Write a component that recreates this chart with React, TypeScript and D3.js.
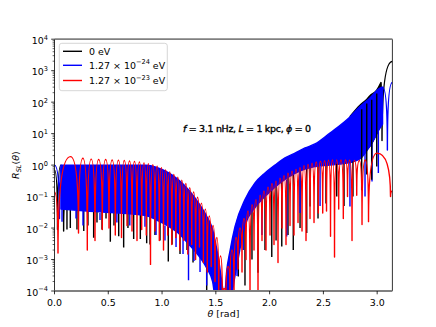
import React from 'react';
import * as d3 from 'd3';

const W = 436;
const H = 327;
const L = 54.5, R = 392.4, T = 39.2, B = 291.0;

const xTickValues = [0, 0.5, 1, 1.5, 2, 2.5, 3];
const xTickLabels = ['0.0', '0.5', '1.0', '1.5', '2.0', '2.5', '3.0'];
const yTickExponents = [-4, -3, -2, -1, 0, 1, 2, 3, 4];

const legendMantissa = ['0 eV', '1.27 × 10', '1.27 × 10'];
const legendExponent = ['', '−24', '−23'];
const legendUnit = ['', ' eV', ' eV'];
const seriesColors = ['#000000', '#0000ff', '#ff0000'];

// ---- 0 eV (black) ----
const blackHead: [number, number][] = [[0, 0.7], [0.028, 0.009], [0.06, 1.0], [0.085, 0.008], [0.1, 0.05]];
const blackBandTheta = [2.75, 2.84, 2.9, 2.933, 2.996, 3.035];
const blackBandTop = [36, 80, 120, 160, 240, 420];
const blackBandBottom = [1.5, 1.6, 3, 4, 10, 20];
const blackTail: [number, number][] = [[3.035, 420], [3.045, 6], [3.1416, 1950]];
const blackSpikeTheta = [0.116, 0.147, 0.209, 0.272, 0.311, 0.364, 0.395, 0.442, 0.479, 0.519, 0.553, 0.597, 0.643, 0.683, 0.736, 0.798, 0.857, 0.888, 0.934, 0.981, 1.058, 1.093, 1.167, 1.232, 1.288, 1.353, 1.415, 1.455,
  1.709, 1.771, 1.836, 1.892, 1.957, 2.02, 2.06, 2.113, 2.171, 2.22, 2.283, 2.345, 2.376, 2.45, 2.524];
const blackSpikeHigh = [0.05, 0.05, 0.05, 0.05, 0.05, 0.05, 0.05, 0.05, 0.05, 0.05, 0.05, 0.05, 0.05, 0.05, 0.05, 0.05, 0.05, 0.05, 0.05, 0.05, 0.02, 0.02, 0.01, 0.01, 0.005, 0.005, 0.002, 0.002,
  0.01, 0.03, 0.1, 0.1, 0.2, 0.3, 0.3, 0.4, 0.5, 0.6, 0.8, 0.9, 0.9, 1, 1];
const blackSpikeLow = [0.009, 0.01, 0.009, 0.008, 0.012, 0.0049, 0.015, 0.009, 0.02, 0.0037, 0.012, 0.0055, 0.0024, 0.01, 0.0045, 0.0045, 0.0033, 0.003, 0.006, 0.004, 0.00086, 0.003, 0.0015, 0.002, 0.0008, 0.0012, 0.00005, 0.0003,
  0.00029, 0.00015, 0.001, 0.00038, 0.002, 0.0012, 0.004, 0.0026, 0.006, 0.002, 0.01, 0.0069, 0.048, 0.02, 0.06];
const blackStreakTheta = [2.624, 2.692, 2.775, 2.856, 2.903, 2.949, 2.996];
const blackStreakHigh = [1.1, 1.1, 1.3, 60, 90, 120, 190];
const blackStreakLow = [0.1, 0.05, 0.1, 0.16, 0.5, 0.34, 0.9];

// ---- 1.27e-24 eV (blue) ----
const blueHead: [number, number][] = [[0, 1.0], [0.046, 0.02], [0.065, 1.0]];
const blueBandTheta = [0.06, 0.3, 0.6, 0.85, 0.95, 1.05, 1.15, 1.25, 1.35, 1.42, 1.47, 1.5, 1.53, 1.555, 1.57, 1.585, 1.6, 1.632, 1.678, 1.771, 1.864, 1.957, 2.05, 2.143, 2.236, 2.329, 2.422, 2.561, 2.747, 2.84, 2.933, 3.026, 3.05];
const blueBandTop = [1, 1, 1, 1, 0.85, 0.6, 0.35, 0.16, 0.055, 0.022, 0.009, 0.003, 0.0008, 0.0002, 0.0001, 0.0001, 0.0004, 0.0019, 0.011, 0.08, 0.27, 0.56, 1.0, 1.7, 2.4, 3.5, 4.7, 10.5, 34, 72, 136, 280, 300];
const blueBandBottom = [0.04, 0.035, 0.03, 0.025, 0.018, 0.012, 0.007, 0.003, 0.0012, 0.0005, 0.0002, 0.00005, 0.00005, 0.00005, 0.00005, 0.00005, 0.00005, 0.00005, 0.0003, 0.012, 0.045, 0.1, 0.2, 0.35, 0.55, 0.75, 0.9, 1.0, 1.2, 1.6, 4, 15, 20];
const blueTail: [number, number][] = [[3.05, 300], [3.095, 3], [3.1416, 420]];
const blueSpikeTheta = [0.07, 0.2, 0.265, 0.423, 0.58, 0.7, 0.841, 0.944, 1.027, 1.13, 1.195, 1.246, 1.297, 1.353, 1.415, 1.697, 1.755, 1.929, 2.159, 2.283, 2.469, 2.747, 2.887, 2.952, 3.011];
const blueSpikeHigh = [0.04, 0.035, 0.035, 0.03, 0.03, 0.03, 0.025, 0.018, 0.012, 0.008, 0.005, 0.003, 0.002, 0.0012, 0.0005, 0.001, 0.01, 0.08, 0.35, 0.6, 0.9, 1.2, 3, 5, 12];
const blueSpikeLow = [0.016, 0.02, 0.012, 0.018, 0.015, 0.012, 0.011, 0.006, 0.004, 0.0025, 0.0015, 0.00022, 0.0009, 0.0004, 0.00015, 0.0003, 0.002, 0.006, 0.0054, 0.03, 0.05, 0.048, 0.1, 0.3, 0.56];

// ---- 1.27e-23 eV (red): alternating extrema [theta, value] ----
const redExtrema: [number, number][] = [
  [0, 0.14], [0.0325, 0.0016], [0.149, 1.86], [0.2232, 0.007], [0.264, 1.65], [0.305, 0.002], [0.341, 1.55], [0.3766, 0.004],
  [0.4105, 1.5], [0.4444, 0.009], [0.4756, 1.5], [0.5067, 0.01], [0.536, 1.45], [0.5653, 0.006], [0.5942, 1.42], [0.623, 0.005],
  [0.6486, 1.4], [0.6741, 0.012], [0.6974, 1.35], [0.7206, 0.008], [0.7439, 1.3], [0.7671, 0.004], [0.789, 1.25], [0.8108, 0.009],
  [0.8322, 1.18], [0.8536, 0.006], [0.8731, 1.1], [0.8926, 0.0007], [0.9135, 1.02], [0.9344, 0.008], [0.9544, 0.92], [0.9744, 0.004],
  [0.994, 0.82], [1.0135, 0.002], [1.033, 0.7], [1.0525, 0.006], [1.0716, 0.6], [1.0907, 0.003], [1.1093, 0.5], [1.1278, 0.005],
  [1.1464, 0.41], [1.165, 0.002], [1.1836, 0.33], [1.2022, 0.004], [1.2208, 0.26], [1.2394, 0.0015], [1.2576, 0.19], [1.2757, 0.003],
  [1.2938, 0.14], [1.3119, 0.001], [1.3301, 0.095], [1.3482, 0.0025], [1.3664, 0.062], [1.3845, 0.0008], [1.4026, 0.04], [1.4207, 0.0004],
  [1.4389, 0.024], [1.457, 0.0006], [1.4747, 0.012], [1.4923, 0.0002], [1.5095, 0.005], [1.5267, 0.00005], [1.5435, 0.0013], [1.5602, 0.00005],
  [1.5774, 0.00012], [1.5946, 0.00005], [1.6132, 0.0006], [1.6318, 0.00008], [1.6504, 0.002], [1.669, 0.00005], [1.6876, 0.005], [1.7062, 0.0005],
  [1.7248, 0.01], [1.7434, 0.0004], [1.762, 0.02], [1.7806, 0.001], [1.7992, 0.035], [1.8178, 0.00005], [1.8364, 0.055], [1.855, 0.002],
  [1.8736, 0.08], [1.8922, 0.00005], [1.9108, 0.11], [1.9293, 0.004], [1.9479, 0.15], [1.9665, 0.002], [1.9851, 0.2], [2.0037, 0.006],
  [2.0223, 0.26], [2.0409, 0.003], [2.0595, 0.31], [2.0781, 0.0008], [2.0967, 0.38], [2.1153, 0.01], [2.1339, 0.46], [2.1525, 0.003],
  [2.1711, 0.55], [2.1897, 0.012], [2.2083, 0.64], [2.2269, 0.006], [2.2455, 0.73], [2.2641, 0.015], [2.2827, 0.83], [2.3013, 0.008],
  [2.3199, 0.95], [2.3385, 0.004], [2.3571, 1.05], [2.3757, 0.02], [2.3943, 1.15], [2.4129, 0.015], [2.4329, 1.25], [2.4528, 0.03],
  [2.4733, 1.32], [2.4937, 0.03], [2.5114, 1.38], [2.5291, 0.035], [2.5477, 1.42], [2.5663, 0.0055], [2.5849, 1.45], [2.6035, 0.0012],
  [2.623, 1.45], [2.6425, 0.04], [2.6639, 1.45], [2.6853, 0.02], [2.7048, 1.45], [2.7243, 0.1], [2.7453, 1.42], [2.7662, 0.004],
  [2.7881, 1.4], [2.8099, 0.11], [2.8346, 1.4], [2.8592, 0.013], [2.8894, 1.45], [2.9196, 0.016], [2.9986, 2.4], [3.1241, 0.1], [3.1416, 0.15],
];

const FONT = 'DejaVu Sans, sans-serif';
const FS = 9.45;
const LW = 1.42;

export default function App() {
  const x = d3.scaleLinear().domain([0, Math.PI]).range([L, R]);
  const y = d3.scaleLog().domain([1e-4, 1e4]).range([B, T]);

  const arcPath = (pts: [number, number][]) => {
    const p = d3.path();
    const P = pts.map(([t, v]) => [x(t), y(v)]);
    p.moveTo(P[0][0], P[0][1]);
    for (let i = 1; i < P.length; i++) {
      const [ax, ay] = P[i - 1];
      const [bx, by] = P[i];
      if (ay < by) p.quadraticCurveTo(bx, ay, bx, by);
      else p.quadraticCurveTo(ax, by, bx, by);
    }
    return p.toString();
  };

  const band = (th: number[], top: number[], bot: number[]) =>
    d3.area<number>()
      .x((i) => x(th[i]))
      .y0((i) => y(bot[i]))
      .y1((i) => y(top[i]))
      .curve(d3.curveMonotoneX)(d3.range(th.length)) || '';

  const spikes = (th: number[], hi: number[], lo: number[], color: string, key: string) =>
    th.map((t, i) => (
      <line key={key + i} x1={x(t)} x2={x(t)} y1={y(hi[i])} y2={y(lo[i])} stroke={color} strokeWidth={LW} />
    ));

  const minorTicks: number[] = [];
  for (let e = -4; e < 4; e++) for (let m = 2; m <= 9; m++) minorTicks.push(m * Math.pow(10, e));

  return (
    <svg width={W} height={H} style={{ position: 'fixed', left: 0, top: 0, display: 'block', background: '#fff' }}
      fontFamily={FONT}>
      <defs>
        <clipPath id="plot">
          <rect x={L} y={T} width={R - L} height={B - T} />
        </clipPath>
      </defs>
      <rect x={0} y={0} width={W} height={H} fill="#fff" />
      <g clipPath="url(#plot)" strokeLinejoin="round">
        <path d={band(blackBandTheta, blackBandTop, blackBandBottom)} fill={seriesColors[0]} stroke={seriesColors[0]} strokeWidth={LW} />
        <path d={arcPath(blackHead)} fill="none" stroke={seriesColors[0]} strokeWidth={LW} />
        <path d={arcPath(blackTail)} fill="none" stroke={seriesColors[0]} strokeWidth={LW} />
        {spikes(blackSpikeTheta, blackSpikeHigh, blackSpikeLow, seriesColors[0], 'bs')}
        <path d={band(blueBandTheta, blueBandTop, blueBandBottom)} fill={seriesColors[1]} stroke={seriesColors[1]} strokeWidth={LW} />
        <path d={arcPath(blueHead)} fill="none" stroke={seriesColors[1]} strokeWidth={LW} />
        <path d={arcPath(blueTail)} fill="none" stroke={seriesColors[1]} strokeWidth={LW} />
        {spikes(blueSpikeTheta, blueSpikeHigh, blueSpikeLow, seriesColors[1], 'us')}
        {spikes(blackStreakTheta, blackStreakHigh, blackStreakLow, seriesColors[0], 'bk')}
        <path d={arcPath(redExtrema)} fill="none" stroke={seriesColors[2]} strokeWidth={LW} />
      </g>

      <line x1={L} x2={L} y1={T} y2={B} stroke="#000" strokeWidth={0.8} />
      <line x1={R} x2={R} y1={T} y2={B} stroke="#000" strokeWidth={0.8} />
      <line x1={L} x2={R} y1={T} y2={T} stroke="#808080" strokeWidth={1.8} />
      <line x1={L} x2={R} y1={B} y2={B} stroke="#808080" strokeWidth={1.8} />

      {xTickValues.map((v, i) => (
        <g key={'xt' + i}>
          <line x1={x(v)} x2={x(v)} y1={B} y2={B + 3.3} stroke="#000" strokeWidth={0.8} />
          <text x={x(v)} y={306} textAnchor="middle" fontSize={FS} fill="#000">{xTickLabels[i]}</text>
        </g>
      ))}
      {yTickExponents.map((e) => (
        <g key={'yt' + e}>
          <line x1={L - 3.3} x2={L} y1={y(Math.pow(10, e))} y2={y(Math.pow(10, e))} stroke="#000" strokeWidth={0.8} />
          <text x={48} y={y(Math.pow(10, e)) + 4.7} textAnchor="end" fontSize={FS} fill="#000">
            10<tspan dy={-4.3} fontSize={6.6}>{e < 0 ? '−' + Math.abs(e) : String(e)}</tspan>
          </text>
        </g>
      ))}
      {minorTicks.map((v, i) => (
        <line key={'mt' + i} x1={L - 1.9} x2={L} y1={y(v)} y2={y(v)} stroke="#000" strokeWidth={0.6} />
      ))}

      <text x={(L + R) / 2} y={316.5} textAnchor="middle" fontSize={FS} fill="#000">
        <tspan fontStyle="italic">θ</tspan> [rad]
      </text>
      <text transform={`translate(19,${(T + B) / 2}) rotate(-90)`} textAnchor="middle" fontSize={FS} fill="#000">
        <tspan fontStyle="italic">R</tspan><tspan fontStyle="italic" fontSize={6.6} dy={2}>SL</tspan><tspan dy={-2}>(</tspan><tspan fontStyle="italic">θ</tspan>)
      </text>

      <text x={183} y={132} fontSize={FS} fill="#000" stroke="#000" strokeWidth={0.35} textLength={128} lengthAdjust="spacing">
        <tspan fontStyle="italic">f</tspan> = 3.1 nHz, <tspan fontStyle="italic">L</tspan> = 1 kpc, <tspan fontStyle="italic">ϕ</tspan> = 0
      </text>

      <rect x={59.3} y={43.3} width={108} height={47.4} rx={2.5} fill="#fff" fillOpacity={0.8} stroke="#cccccc" strokeWidth={0.8} />
      {legendMantissa.map((m, i) => {
        const cy = [51.3, 65.3, 80.5][i];
        return (
          <g key={'lg' + i}>
            <line x1={63} x2={82} y1={cy} y2={cy} stroke={seriesColors[i]} strokeWidth={LW} />
            <text x={89} y={cy + 3.4} fontSize={FS} fill="#000">
              {m}
              {legendExponent[i] ? <tspan dy={-4.3} fontSize={6.6}>{legendExponent[i]}</tspan> : null}
              {legendUnit[i] ? <tspan dy={4.3}>{legendUnit[i]}</tspan> : null}
            </text>
          </g>
        );
      })}
    </svg>
  );
}
